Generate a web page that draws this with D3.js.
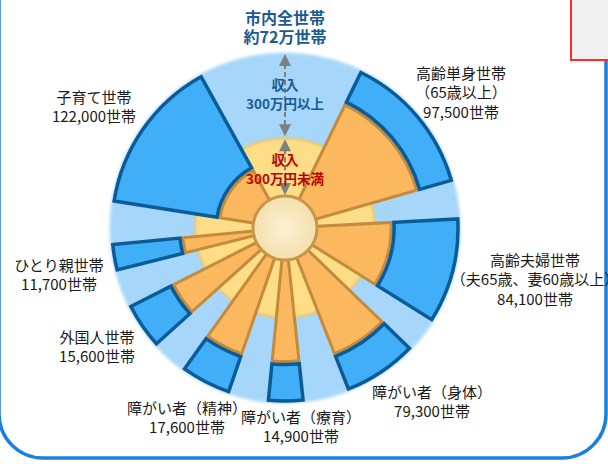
<!DOCTYPE html>
<html>
<head>
<meta charset="utf-8">
<script src="https://cdn.jsdelivr.net/npm/d3@7"></script>
<style>
body { margin: 0; background: #fff; }
svg { display: block; font-family: "Noto Sans CJK JP", "Noto Sans", sans-serif; }
</style>
</head>
<body>
<div id="chart"></div>
<script>
// household groups, clockwise from the top
var categories = ["高齢単身世帯", "高齢夫婦世帯", "障がい者（身体）", "障がい者（療育）",
	"障がい者（精神）", "外国人世帯", "ひとり親世帯", "子育て世帯"];
var subLabels = ["（65歳以上）", "（夫65歳、妻60歳以上）", "", "", "", "", "", ""];
var households = [97500, 84100, 79300, 14900, 17600, 15600, 11700, 122000];
// angular span of each sector (degrees from 12 o'clock)
var startDeg = [26, 87, 134, 174, 199, 228, 256, 279];
var endDeg = [74, 122, 158.5, 185.5, 215.5, 243, 264.5, 331];
// share of the radius that is under 300万円 income
var lowShare = [0.745, 0.525, 0.73, 0.72, 0.716, 0.66, 0.50, 0.24];
var thresholdShare = 0.41;

// label anchor points (x, y of first line centre)
var labelPos = [[461, 73], [535, 260], [432, 392], [301, 417], [187, 408], [97, 337], [59, 265], [94, 97]];

var width = 608, height = 464,
	cx = 285, cy = 228;

var svg = d3.select("#chart").append("svg")
	.attr("width", width)
	.attr("height", height);

var r = d3.scaleLinear().domain([0, 1]).range([32, 173]);
var ang = d3.scaleLinear().domain([0, 360]).range([0, 2 * Math.PI]);

// frame and box at the edges
svg.append("rect")
	.attr("x", -1).attr("y", -200)
	.attr("width", 607).attr("height", 658)
	.attr("rx", 44)
	.attr("fill", "none")
	.attr("stroke", "#1a80de")
	.attr("stroke-width", 3.5);

svg.append("rect")
	.attr("x", 571).attr("y", -5)
	.attr("width", 60).attr("height", 65)
	.attr("fill", "#f0f0f0")
	.attr("stroke", "#ff2a2a")
	.attr("stroke-width", 2);

var g = svg.append("g").attr("transform", "translate(" + cx + "," + cy + ")");

var defs = svg.append("defs");
defs.append("filter").attr("id", "soft")
	.append("feGaussianBlur").attr("stdDeviation", 1.2);
var grad = defs.append("radialGradient").attr("id", "core");
grad.append("stop").attr("offset", "0%").attr("stop-color", "#fbf0d2");
grad.append("stop").attr("offset", "100%").attr("stop-color", "#f4e0ae");

// background discs
g.append("circle").attr("r", r(1.015)).attr("fill", "#a6d7fb")
	.attr("stroke", "#c4e5fc").attr("stroke-width", 2).attr("filter", "url(#soft)");
g.append("circle").attr("r", r(thresholdShare)).attr("fill", "#fddd86")
	.attr("stroke", "#e9c46f").attr("stroke-width", 2).attr("filter", "url(#soft)");

var idx = d3.range(categories.length);

var lowArc = d3.arc()
	.innerRadius(0)
	.outerRadius(function(i) { return r(lowShare[i]); })
	.startAngle(function(i) { return ang(startDeg[i]); })
	.endAngle(function(i) { return ang(endDeg[i]); });

var highArc = d3.arc()
	.innerRadius(function(i) { return r(lowShare[i]) + 3; })
	.outerRadius(r(1))
	.startAngle(function(i) { return ang(startDeg[i]); })
	.endAngle(function(i) { return ang(endDeg[i]); });

g.selectAll("path.low").data(idx).enter().append("path")
	.attr("class", "low")
	.attr("d", lowArc)
	.attr("fill", "#fcb85f")
	.attr("stroke", "#c48b3d")
	.attr("stroke-width", 3)
	.attr("stroke-linejoin", "miter");

g.selectAll("path.high").data(idx).enter().append("path")
	.attr("class", "high")
	.attr("d", highArc)
	.attr("fill", "#40aff8")
	.attr("stroke", "#0b5b98")
	.attr("stroke-width", 3.5)
	.attr("stroke-linejoin", "miter");

// centre disc
g.append("circle").attr("r", r(0)).attr("fill", "url(#core)")
	.attr("stroke", "#c8964b").attr("stroke-width", 3);

// arrows
function drawArrow(y1, y2) {
	g.append("line")
		.attr("x1", 0).attr("y1", y1 + 10)
		.attr("x2", 0).attr("y2", y2 - 10)
		.attr("stroke", "#7f7f7f")
		.attr("stroke-width", 2)
		.attr("stroke-dasharray", "5,3");
	g.append("path")
		.attr("d", "M0," + y1 + "L-6," + (y1 + 12) + "L6," + (y1 + 12) + "Z")
		.attr("fill", "#7f7f7f");
	g.append("path")
		.attr("d", "M0," + y2 + "L-6," + (y2 - 12) + "L6," + (y2 - 12) + "Z")
		.attr("fill", "#7f7f7f");
}
drawArrow(-r(1.015) + 1, -r(thresholdShare) - 2);
drawArrow(-r(thresholdShare) + 1, -r(0) - 1);

// titles
function centerText(lines, x, y, size, color, weight, gap) {
	var t = svg.append("text")
		.attr("text-anchor", "middle")
		.attr("font-size", size)
		.attr("font-weight", weight)
		.attr("fill", color);
	lines.forEach(function(s, k) {
		t.append("tspan").attr("x", x).attr("y", y + k * gap).text(s);
	});
}

centerText(["市内全世帯", "約72万世帯"], cx, 23.5, 16, "#1b5a93", "bold", 19.5);
centerText(["収入", "300万円以上"], cx, 90, 13.5, "#1b5a93", "bold", 19);
centerText(["収入", "300万円未満"], cx, 165, 13.5, "#c00000", "bold", 18.5);

idx.forEach(function(i) {
	var lines = [categories[i]];
	if (subLabels[i]) lines.push(subLabels[i]);
	lines.push(d3.format(",")(households[i]) + "世帯");
	centerText(lines, labelPos[i][0], labelPos[i][1] + 5.5, 15, "#1a1a1a", "normal", 19.5);
});
</script>
</body>
</html>
